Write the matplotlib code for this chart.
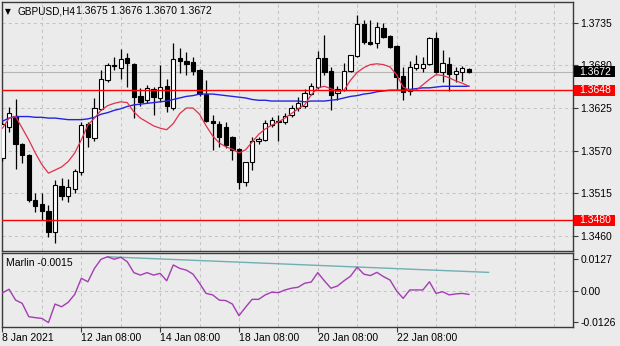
import matplotlib
matplotlib.use("Agg")
import matplotlib.pyplot as plt
from matplotlib.patches import Rectangle
from matplotlib.transforms import blended_transform_factory

# ---- GBPUSD H4 candles (8 Jan 2021 08:00 onwards) ----
opens = [1.3560, 1.3600, 1.3615, 1.3578, 1.3564, 1.3507, 1.3501, 1.3492, 1.3465, 1.3524,
         1.3512, 1.3521, 1.3542, 1.3604, 1.3586, 1.3624, 1.3661, 1.3680, 1.3676, 1.3689,
         1.3682, 1.3640, 1.3635, 1.3650, 1.3638, 1.3653, 1.3625, 1.3689, 1.3685, 1.3684,
         1.3674, 1.3643, 1.3608, 1.3604, 1.3601, 1.3588, 1.3572, 1.3529, 1.3556, 1.3583,
         1.3584, 1.3603, 1.3607, 1.3607, 1.3616, 1.3625, 1.3627, 1.3643, 1.3652, 1.3690,
         1.3673, 1.3644, 1.3648, 1.3673, 1.3692, 1.3733, 1.3710, 1.3709, 1.3728, 1.3718,
         1.3705, 1.3666, 1.3647, 1.3677, 1.3677, 1.3682, 1.3715, 1.3671, 1.3682, 1.3669,
         1.3672, 1.3675]
highs = [1.3607, 1.3626, 1.3636, 1.3580, 1.3566, 1.3515, 1.3515, 1.3500, 1.3532, 1.3535,
         1.3534, 1.3547, 1.3607, 1.3607, 1.3638, 1.3674, 1.3683, 1.3691, 1.3701, 1.3696,
         1.3683, 1.3651, 1.3655, 1.3652, 1.3681, 1.3663, 1.3709, 1.3702, 1.3697, 1.3691,
         1.3675, 1.3661, 1.3616, 1.3608, 1.3607, 1.3589, 1.3574, 1.3556, 1.3587, 1.3588,
         1.3610, 1.3614, 1.3616, 1.3618, 1.3629, 1.3639, 1.3650, 1.3657, 1.3699, 1.3719,
         1.3678, 1.3654, 1.3683, 1.3694, 1.3745, 1.3739, 1.3739, 1.3736, 1.3735, 1.3719,
         1.3706, 1.3678, 1.3685, 1.3693, 1.3691, 1.3716, 1.3723, 1.3700, 1.3691, 1.3678,
         1.3679, 1.3676]
lows = [1.3557, 1.3594, 1.3547, 1.3554, 1.3504, 1.3491, 1.3481, 1.3459, 1.3451, 1.3507,
        1.3504, 1.3516, 1.3539, 1.3575, 1.3582, 1.3622, 1.3659, 1.3674, 1.3663, 1.3652,
        1.3612, 1.3627, 1.3631, 1.3616, 1.3633, 1.3620, 1.3622, 1.3670, 1.3668, 1.3668,
        1.3641, 1.3607, 1.3571, 1.3575, 1.3573, 1.3558, 1.3521, 1.3524, 1.3545, 1.3579,
        1.3582, 1.3601, 1.3582, 1.3605, 1.3614, 1.3621, 1.3625, 1.3642, 1.3650, 1.3668,
        1.3622, 1.3635, 1.3647, 1.3671, 1.3691, 1.3708, 1.3706, 1.3703, 1.3715, 1.3703,
        1.3650, 1.3635, 1.3642, 1.3674, 1.3672, 1.3681, 1.3670, 1.3659, 1.3647, 1.3659,
        1.3660, 1.3670]
closes = [1.3605, 1.3619, 1.3578, 1.3564, 1.3507, 1.3499, 1.3492, 1.3465, 1.3526, 1.3511,
          1.3523, 1.3544, 1.3603, 1.3587, 1.3625, 1.3662, 1.3681, 1.3679, 1.3688, 1.3683,
          1.3639, 1.3633, 1.3651, 1.3639, 1.3652, 1.3627, 1.3688, 1.3685, 1.3682, 1.3673,
          1.3643, 1.3608, 1.3606, 1.3588, 1.3577, 1.3571, 1.3529, 1.3555, 1.3583, 1.3585,
          1.3606, 1.3609, 1.3608, 1.3615, 1.3625, 1.3631, 1.3644, 1.3653, 1.3690, 1.3671,
          1.3642, 1.3649, 1.3673, 1.3693, 1.3733, 1.3710, 1.3708, 1.3729, 1.3717, 1.3704,
          1.3665, 1.3646, 1.3678, 1.3682, 1.3682, 1.3715, 1.3672, 1.3683, 1.3669, 1.3673,
          1.3676, 1.3672]

# fast moving average (red) and slow moving average (blue)
ma_fast = [1.3599, 1.3612, 1.3614, 1.3599, 1.3584, 1.3567, 1.3552, 1.3541, 1.3545, 1.3549,
           1.3556, 1.3567, 1.3584, 1.3603, 1.3612, 1.3622, 1.3628, 1.3631, 1.3633, 1.3632,
           1.3620, 1.3612, 1.3607, 1.3602, 1.3599, 1.3597, 1.3605, 1.3618, 1.3625, 1.3625,
           1.3617, 1.3602, 1.3589, 1.3580, 1.3575, 1.3572, 1.3567, 1.3571, 1.3581, 1.3591,
           1.3598, 1.3603, 1.3607, 1.3612, 1.3618, 1.3624, 1.3629, 1.3642, 1.3651, 1.3653,
           1.3650, 1.3646, 1.3648, 1.3661, 1.3671, 1.3677, 1.3681, 1.3682, 1.3681, 1.3678,
           1.3668, 1.3652, 1.3648, 1.3648, 1.3655, 1.3662, 1.3668, 1.3667, 1.3664, 1.3660,
           1.3657, 1.3653]
ma_slow = [1.3608, 1.3612, 1.3614, 1.3614, 1.3614, 1.3613, 1.3613, 1.3612, 1.3612, 1.3611,
           1.3610, 1.3610, 1.3610, 1.3611, 1.3613, 1.3617, 1.3619, 1.3622, 1.3624, 1.3627,
           1.3629, 1.3630, 1.3631, 1.3632, 1.3633, 1.3634, 1.3636, 1.3638, 1.3640, 1.3641,
           1.3643, 1.3643, 1.3643, 1.3642, 1.3641, 1.3640, 1.3639, 1.3638, 1.3636, 1.3635,
           1.3635, 1.3634, 1.3634, 1.3634, 1.3634, 1.3634, 1.3633, 1.3634, 1.3634, 1.3634,
           1.3635, 1.3636, 1.3638, 1.3640, 1.3641, 1.3643, 1.3644, 1.3646, 1.3647, 1.3648,
           1.3648, 1.3648, 1.3649, 1.3650, 1.3651, 1.3651, 1.3652, 1.3653, 1.3653, 1.3653,
           1.3653, 1.3653]

# Marlin oscillator
marlin = [-0.0009, 0.0006, -0.0038, -0.0051, -0.0105, -0.0109, -0.0112, -0.0129, -0.0054, -0.0065,
          -0.0047, -0.0015, 0.0050, 0.0036, 0.0090, 0.0127, 0.0137, 0.0127, 0.0135, 0.0117,
          0.0073, 0.0063, 0.0073, 0.0063, 0.0070, 0.0040, 0.0104, 0.0090, 0.0083, 0.0067,
          0.0030, -0.0011, -0.0017, -0.0038, -0.0040, -0.0054, -0.0101, -0.0067, -0.0035, -0.0035,
          -0.0017, -0.0006, -0.0008, 0.0003, 0.0010, 0.0014, 0.0030, 0.0035, 0.0073, 0.0040,
          0.0010, 0.0019, 0.0040, 0.0059, 0.0095, 0.0067, 0.0061, 0.0074, 0.0057, 0.0043,
          -0.0001, -0.0031, 0.0003, 0.0003, 0.0003, 0.0036, -0.0011, -0.0004, -0.0017, -0.0013,
          -0.0011, -0.0015]
trend_bars = [16, 74]
trend_vals = [0.0137, 0.0074]

# horizontal levels
levels = [1.3648, 1.3480]

# axis labelling
price_ticks = [1.3460, 1.3515, 1.3570, 1.3625, 1.3680, 1.3735]
osc_ticks = [-0.0126, 0.0, 0.0127]
osc_tick_labels = ["-0.0126", "0.00", "0.0127"]
date_ticks = [0, 12, 24, 36, 48, 60]
date_labels = ["8 Jan 2021", "12 Jan 08:00", "14 Jan 08:00", "18 Jan 08:00",
               "20 Jan 08:00", "22 Jan 08:00"]
symbol = "GBPUSD,H4"

# ---- styling ----
BG = "#ebebeb"
FRAME = "#3a3a3a"
GRID = "#c4c4c4"
FONT = ["Liberation Sans", "DejaVu Sans"]
FS = 7.5
plt.rcParams["font.family"] = FONT
plt.rcParams["font.size"] = FS

W, H = 620, 346
fig = plt.figure(figsize=(W / 100, H / 100), dpi=100, facecolor=BG)


def frac_box(x0, y0, x1, y1):
    return [x0 / W, 1 - y1 / H, (x1 - x0) / W, (y1 - y0) / H]


ax = fig.add_axes(frac_box(1.5, 1.7, 573.3, 250.7))
axo = fig.add_axes(frac_box(1.5, 252.5, 573.3, 327.0), sharex=ax)

n = len(closes)
xs = list(range(n))
xlim = (-0.15, 86.9)

for a in (ax, axo):
    a.set_facecolor(BG)
    for s in a.spines.values():
        s.set_color(FRAME)
        s.set_linewidth(1.0)
    a.yaxis.tick_right()
    a.tick_params(axis="y", direction="out", length=3.5, width=0.8, color=FRAME,
                  pad=1.5, labelsize=FS, labelcolor="black")
    for gx in range(0, 90, 6):
        a.axvline(gx, color=GRID, lw=0.75, ls=(0, (3, 3)), zorder=0)

# ---- price panel ----
ax.set_xlim(*xlim)
ax.set_ylim(1.34410, 1.37621)
ax.set_yticks(price_ticks)
ax.set_yticklabels([f"{v:.4f}" for v in price_ticks])
ax.tick_params(axis="x", which="both", bottom=False, labelbottom=False)
for v in price_ticks:
    ax.axhline(v, color=GRID, lw=0.75, ls=(0, (3, 3)), zorder=0)

# current price line
ax.axhline(closes[-1], color="#b5b5b5", lw=0.8, zorder=1)

# candles
body_w = 0.66
for i in xs:
    o, h, l, c = opens[i], highs[i], lows[i], closes[i]
    ax.vlines(i, l, h, color="black", lw=0.9, zorder=3)
    lo, hi = min(o, c), max(o, c)
    hgt = max(hi - lo, 0.00002)
    ax.bar(i, hgt, bottom=lo, width=body_w,
           color="white" if c >= o else "black",
           edgecolor="black", linewidth=0.8, zorder=4)

ax.plot(xs, ma_slow, color="#2424e0", lw=1.0, zorder=5)
ax.plot(xs, ma_fast, color="#e0304e", lw=0.9, zorder=5)

for lv in levels:
    ax.axhline(lv, color="#ff0000", lw=1.0, zorder=5)

# price tags on the right scale
tr = blended_transform_factory(ax.transAxes, ax.transData)
tag_w = 41 / 571.8
tag_h = 11 * 0.00012893
for val, col in [(closes[-1], "black")] + [(lv, "#ff0000") for lv in levels]:
    ax.add_patch(Rectangle((1.0015, val - tag_h / 2), tag_w, tag_h, transform=tr,
                           facecolor=col, edgecolor="none", clip_on=False, zorder=8))
    ax.text(1.0095, val, f"{val:.4f}", transform=tr, color="white", fontsize=FS,
            ha="left", va="center", clip_on=False, zorder=9)

# ---- oscillator panel ----
axo.set_ylim(-0.01467, 0.01543)
axo.set_yticks(osc_ticks)
axo.set_yticklabels(osc_tick_labels)
axo.axhline(0.0, color=GRID, lw=0.75, ls=(0, (3, 3)), zorder=0)
axo.plot(trend_bars, trend_vals, color="#6fb0b3", lw=1.0, zorder=3)
axo.plot(xs, marlin, color="#a43cb4", lw=1.0, zorder=4)
axo.text(0.007, 0.86, f"Marlin {marlin[-1]:.4f}", transform=axo.transAxes,
         fontsize=FS, ha="left", va="center", color="black")

axo.set_xticks(date_ticks)
axo.set_xticklabels(date_labels)
axo.tick_params(axis="x", direction="out", length=3.5, width=0.8, color=FRAME,
                pad=1.0, labelsize=FS)
for lab in axo.get_xticklabels():
    lab.set_horizontalalignment("left")

# ---- header ----
fig.text(5 / W, 1 - 11.5 / H, "\u25bc", fontsize=5.5, family=["DejaVu Sans"],
         ha="left", va="center")
fig.text(17 / W, 1 - 11.5 / H, symbol, fontsize=7.2, ha="left", va="center")
fig.text(76.5 / W, 1 - 11.5 / H,
         f"{opens[-1]:.4f} {highs[-1]:.4f} {lows[-1]:.4f} {closes[-1]:.4f}",
         fontsize=FS, ha="left", va="center")

fig.savefig("out.png", dpi=100, facecolor=BG)
